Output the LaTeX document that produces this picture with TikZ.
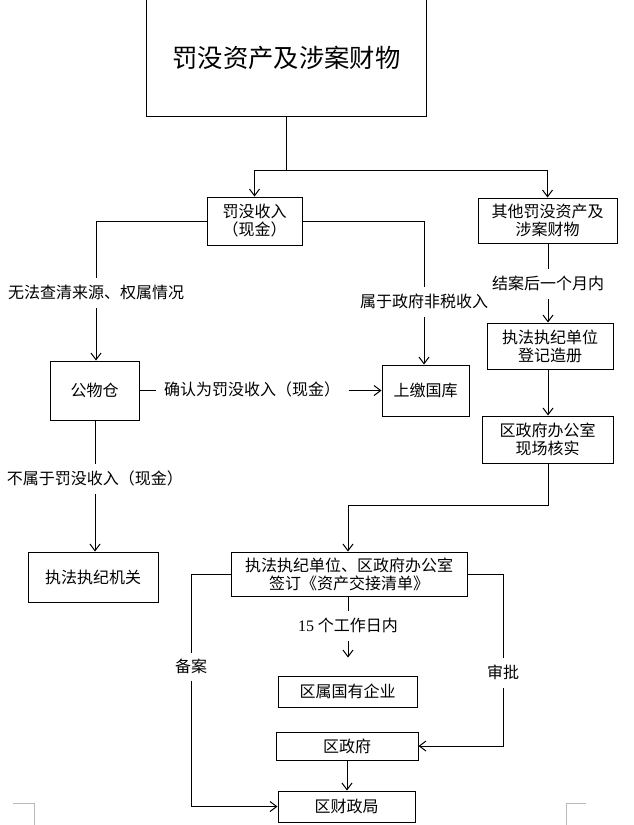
\documentclass[tikz,border=0pt]{standalone}
\usepackage{fontspec}
\setmainfont{Liberation Serif}
\newfontfamily\cjk{Noto Sans CJK SC}
\usetikzlibrary{arrows.meta}
\begin{document}
\begin{tikzpicture}[x=0.75pt,y=-0.75pt,line width=0.75pt,
  box/.style={draw,inner sep=0pt,align=center,font=\cjk\fontsize{12pt}{13.5pt}\selectfont},
  lab/.style={inner xsep=6pt,inner ysep=5pt,text height=10pt,text depth=2pt,font=\cjk\fontsize{12pt}{13.5pt}\selectfont},
  arr/.style={-{Straight Barb[length=5pt,width=7.5pt]}},
  corner/.style={draw=gray!55,line width=0.75pt}]
\useasboundingbox (0,0) rectangle (634,825);

% title
\node[inner sep=0pt,minimum width=209.25pt,minimum height=87pt,font=\cjk\fontsize{19pt}{22pt}\selectfont] (title) at (286.5,58) {罚没资产及涉案财物};
\draw (title.north west) -- (title.south west) -- (title.south east) -- (title.north east);
\coordinate (split) at (286.5,170);

% boxes
\node[box,minimum width=71.25pt,minimum height=36pt] (famo) at (254.5,221) {罚没收入\\（现金）};
\node[box,minimum width=104.25pt,minimum height=33.75pt] (qita) at (547.5,220.5) {其他罚没资产及\\涉案财物};
\node[box,minimum width=94.5pt,minimum height=34.5pt] (dengji) at (550,346) {执法执纪单位\\登记造册};
\node[box,minimum width=98.25pt,minimum height=35.25pt] (hexin) at (547.5,439.5) {区政府办公室\\现场核实};
\node[box,minimum width=65.25pt,minimum height=38.25pt] (shangjiao) at (425.5,390.5) {上缴国库};
\node[box,minimum width=66.75pt,minimum height=44.25pt] (gongwu) at (94.5,390.5) {公物仓};
\node[box,minimum width=97.5pt,minimum height=37.5pt] (jiguan) at (93,577) {执法执纪机关};
\node[box,minimum width=177pt,minimum height=33pt] (qianding) at (349,574) {执法执纪单位、区政府办公室\\签订《资产交接清单》};
\node[box,minimum width=104.25pt,minimum height=23.25pt] (qiye) at (347.5,691.5) {区属国有企业};
\node[box,minimum width=106.5pt,minimum height=21pt] (quzf) at (347,746) {区政府};
\node[box,minimum width=102.75pt,minimum height=23.25pt] (caizheng) at (346.5,806.5) {区财政局};

% labels
\node[lab] (lab1) at (96,293) {无法查清来源、权属情况};
\node[lab] (lab2) at (424,302) {属于政府非税收入};
\node[lab] (lab3) at (548,284) {结案后一个月内};
\node[lab] (lab4) at (252,390.5) {确认为罚没收入（现金）};
\node[lab] (lab5) at (95,479) {不属于罚没收入（现金）};
\node[lab,inner ysep=4pt] (lab6) at (191,667) {备案};
\node[lab] (lab7) at (503,673) {审批};
\node[lab] (lab8) at (348,626) {{\rmfamily 15} 个工作日内};

% connectors
\draw (title.south) -- (split);
\draw[arr] (split) -| (famo.north);
\draw[arr] (split) -| (qita.north);

\draw (famo.west) -| (lab1.north);
\draw[arr] (lab1.south) -- (lab1.south |- gongwu.north);

\draw (famo.east) -| (lab2.north);
\draw[arr] (lab2.south) -- (lab2.south |- shangjiao.north);

\draw (qita.south -| lab3.north) -- (lab3.north);
\draw[arr] (lab3.south) -- (lab3.south |- dengji.north);
\draw[arr] (dengji.south -| lab3.north) -- (hexin.north -| lab3.north);
\draw[arr] (hexin.south -| lab3.north) -- ++(0,42) -| (qianding.north -| lab8.north);

\draw (gongwu.east) -- (lab4.west);
\draw[arr] (lab4.east) -- (shangjiao.west);

\draw (gongwu.south -| lab5.north) -- (lab5.north);
\draw[arr] (lab5.south) -- (lab5.south |- jiguan.north);

\draw (qianding.west) -| (lab6.north);
\draw[arr] (lab6.south) |- (caizheng.west);

\draw (qianding.east) -| (lab7.north);
\draw[arr] (lab7.south) |- (quzf.east);

\draw (qianding.south -| lab8.north) -- (lab8.north);
\draw[arr,shorten >=13.5pt] (lab8.south) -- (lab8.south |- qiye.north);

\draw[arr] (quzf.south) -- (quzf.south |- caizheng.north);

% page corner marks
\draw[corner] (13,803) -- (34,803) -- (34,825);
\draw[corner] (586,803) -- (566,803) -- (566,825);
\end{tikzpicture}
\end{document}
